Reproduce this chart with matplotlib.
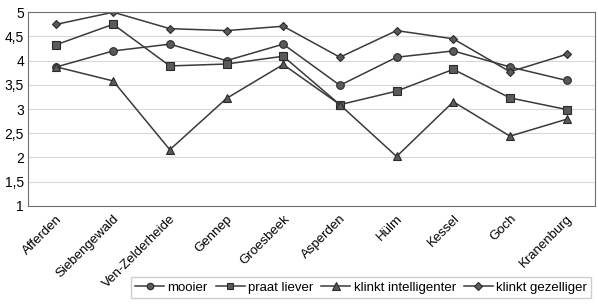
import matplotlib
matplotlib.use("Agg")
import matplotlib.pyplot as plt
import numpy as np

# data
plaatsen = ['Afferden', 'Siebengewald', 'Ven-Zelderheide', 'Gennep', 'Groesbeek',
            'Asperden', 'Hülm', 'Kessel', 'Goch', 'Kranenburg']
mooier = [3.87, 4.2, 4.34, 4.0, 4.34, 3.49, 4.07, 4.2, 3.87, 3.59]
praat_liever = [4.33, 4.75, 3.89, 3.93, 4.09, 3.09, 3.37, 3.82, 3.23, 2.99]
klinkt_intelligenter = [3.87, 3.58, 2.16, 3.22, 3.92, 3.09, 2.02, 3.15, 2.44, 2.79]
klinkt_gezelliger = [4.75, 5.0, 4.66, 4.62, 4.71, 4.07, 4.62, 4.45, 3.77, 4.13]

yticks = [1, 1.5, 2, 2.5, 3, 3.5, 4, 4.5, 5]
ytick_labels = ['1', '1,5', '2', '2,5', '3', '3,5', '4', '4,5', '5']

plt.rcParams['font.family'] = ['Liberation Sans', 'DejaVu Sans']

fig = plt.figure(figsize=(5.98, 3.05), dpi=100)
ax = fig.add_axes([0.047, 0.325, 0.948, 0.635])

x = np.arange(len(plaatsen))
series = [
    (mooier, 'o', 'mooier', 5.5),
    (praat_liever, 's', 'praat liever', 5.5),
    (klinkt_intelligenter, '^', 'klinkt intelligenter', 6),
    (klinkt_gezelliger, 'D', 'klinkt gezelliger', 4.5),
]
for vals, m, lab, ms in series:
    ax.plot(x, vals, color='#3a3a3a', lw=1.1, marker=m, ms=ms,
            mfc='#5a5a5a', mec='#2a2a2a', mew=0.8, label=lab)

ax.set_xlim(-0.5, len(plaatsen) - 0.5)
ax.set_ylim(1, 5)
ax.set_yticks(yticks)
ax.set_yticklabels(ytick_labels, fontsize=10)
ax.set_xticks(x)
ax.set_xticklabels(plaatsen, rotation=45, ha='right', rotation_mode='anchor', fontsize=9.5)
ax.tick_params(axis='x', length=0, pad=5)
ax.tick_params(axis='y', length=0, pad=3)
ax.grid(axis='y', color='#d8d8d8', lw=0.8)
ax.set_axisbelow(True)
for s in ax.spines.values():
    s.set_color('#707070')
    s.set_linewidth(0.8)

leg = fig.legend(loc='lower right', bbox_to_anchor=(1.0, 0.0), ncol=4, fontsize=9.5,
                 frameon=True, fancybox=False, edgecolor='#c0c0c0',
                 handlelength=2.2, handletextpad=0.25, columnspacing=0.6,
                 borderpad=0.35, markerscale=0.85)

fig.savefig('out.png', dpi=100)
